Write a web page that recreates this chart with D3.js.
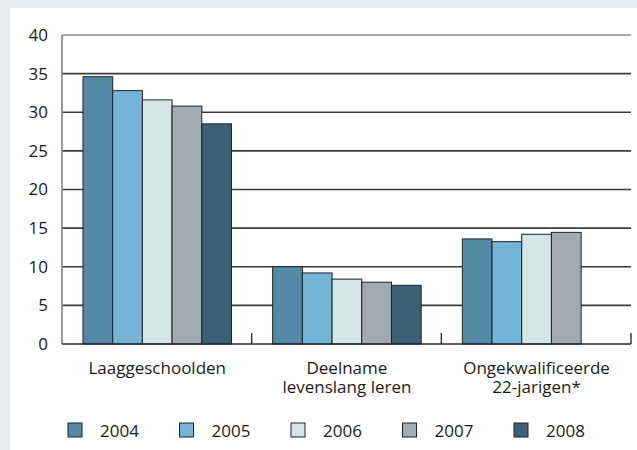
<!DOCTYPE html>
<html>
<head>
<meta charset="utf-8">
<script src="https://cdn.jsdelivr.net/npm/d3@7"></script>
<style>
  html, body { margin: 0; padding: 0; background: #e8ecef; }
  svg { display: block; }
  text { font-family: "Open Sans", "Noto Sans", sans-serif; fill: #1a1a1a; }
</style>
</head>
<body>
<svg id="chart" width="637" height="450"></svg>
<script>
// Indicator groups and the years shown for each
const categories = [["Laaggeschoolden"], ["Deelname", "levenslang leren"], ["Ongekwalificeerde", "22-jarigen*"]];
const years = ["2004", "2005", "2006", "2007", "2008"];
const values2004 = [34.6, 10.0, 13.6];
const values2005 = [32.8, 9.2, 13.25];
const values2006 = [31.6, 8.4, 14.2];
const values2007 = [30.8, 8.0, 14.45];
const values2008 = [28.5, 7.6, null];
const yTicks = [0, 5, 10, 15, 20, 25, 30, 35, 40];
const colors = ["#5589a8", "#74b4d6", "#d3e6e5", "#a2abb2", "#3a6178"];

const seriesValues = [values2004, values2005, values2006, values2007, values2008];
const FS = 17;

const svg = d3.select("#chart");

// white panel
svg.append("rect").attr("x", 10).attr("y", 8).attr("width", 627).attr("height", 442).attr("fill", "#ffffff");

const m = { left: 62, right: 631, top: 35, bottom: 344 };

const x0 = d3.scaleBand().domain(d3.range(categories.length)).range([m.left, m.right]).paddingInner(0).paddingOuter(0);
const x1 = d3.scaleBand().domain(years).range([21, 21 + 148.5]);
const y = d3.scaleLinear().domain([0, 40]).range([m.bottom, m.top]);

// horizontal grid lines
svg.append("g").selectAll("line").data(yTicks.filter(d => d > 0)).join("line")
  .attr("x1", m.left).attr("x2", m.right)
  .attr("y1", d => y(d)).attr("y2", d => y(d))
  .attr("stroke", d => d === 40 ? "#8a8a8a" : "#3c3c3c")
  .attr("stroke-width", 1.6);

// y tick labels
const yAxis = d3.axisLeft(y).tickValues(yTicks).tickSize(0).tickPadding(14);
const yg = svg.append("g").attr("transform", `translate(${m.left},0)`).call(yAxis);
yg.select(".domain").remove();
yg.selectAll("text").attr("font-size", FS).attr("fill", "#1a1a1a")
  .style("font-family", '"Open Sans", "Noto Sans", sans-serif');

// left axis line
svg.append("line").attr("x1", m.left).attr("x2", m.left).attr("y1", m.top).attr("y2", m.bottom)
  .attr("stroke", "#808080").attr("stroke-width", 1.6);

// bars
const bars = [];
categories.forEach((c, ci) => {
  years.forEach((yr, si) => {
    const v = seriesValues[si][ci];
    if (v != null) bars.push({ ci, yr, si, v });
  });
});
svg.append("g").selectAll("rect").data(bars).join("rect")
  .attr("x", d => x0(d.ci) + x1(d.yr))
  .attr("y", d => y(d.v))
  .attr("width", x1.bandwidth())
  .attr("height", d => y(0) - y(d.v))
  .attr("fill", d => colors[d.si])
  .attr("stroke", "#222")
  .attr("stroke-width", 1);

// bottom axis and category ticks
svg.append("line").attr("x1", m.left).attr("x2", m.right).attr("y1", m.bottom).attr("y2", m.bottom)
  .attr("stroke", "#2a2a2a").attr("stroke-width", 1.6);
svg.append("g").selectAll("line").data(d3.range(1, categories.length + 1)).join("line")
  .attr("x1", d => m.left + d * x0.bandwidth()).attr("x2", d => m.left + d * x0.bandwidth())
  .attr("y1", m.bottom - 11).attr("y2", m.bottom)
  .attr("stroke", "#2a2a2a").attr("stroke-width", 1.4);

// category labels, one text element per line
const lines = [];
categories.forEach((c, ci) => c.forEach((t, li) => lines.push({ ci, li, t })));
svg.append("g").selectAll("text").data(lines).join("text")
  .attr("text-anchor", "middle").attr("font-size", FS)
  .attr("x", d => x0(d.ci) + x1(years[2]) + x1.bandwidth() / 2)
  .attr("y", d => 373.5 + d.li * 19)
  .text(d => d.t);

// legend
const lx = d3.scalePoint().domain(years).range([68, 514]);
const lg = svg.append("g").selectAll("g").data(years).join("g")
  .attr("transform", d => `translate(${lx(d)},423)`);
lg.append("rect").attr("width", 14).attr("height", 14)
  .attr("fill", (d, i) => colors[i]).attr("stroke", "#222").attr("stroke-width", 1);
lg.append("text").attr("x", 32).attr("y", 13.5).attr("font-size", FS).text(d => d);
</script>
</body>
</html>
